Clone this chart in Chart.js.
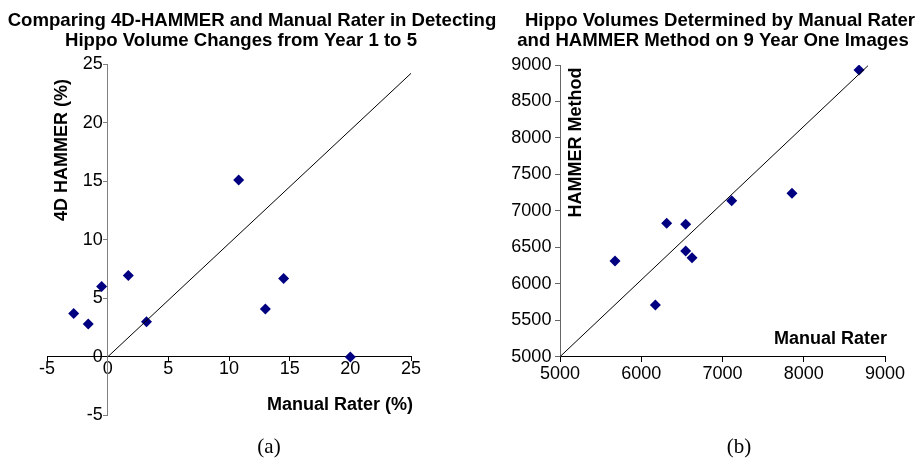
<!DOCTYPE html>
<html>
<head>
<meta charset="utf-8">
<script src="https://cdn.jsdelivr.net/npm/chart.js@4.4.0/dist/chart.umd.min.js"></script>
<style>
  body { margin: 0; background: #fff; }
  #wrap { position: relative; width: 916px; height: 459px; overflow: hidden; }
  canvas { position: absolute; top: 0; }
  .cap { position: absolute; top: 436px; width: 60px; text-align: center;
         font: 21px "Liberation Serif", "Times New Roman", serif; line-height: 21px; }
</style>
</head>
<body>
<div id="wrap">
  <canvas id="chartA" width="892" height="459" style="left:-200px"></canvas>
  <canvas id="chartB" width="800" height="459" style="left:316px"></canvas>
  <div class="cap" style="left:239px">(a)</div>
  <div class="cap" style="left:709px">(b)</div>
</div>
<script>
// (a) volume change, year 1 to 5 (%)
var changeManual = [-2.8, -1.6, -0.5, 1.7, 3.2, 10.8, 13.0, 14.5, 20.0];
var changeHammer = [3.7, 2.8, 6.0, 6.95, 3.0, 15.1, 4.1, 6.7, 0.0];
var changeRefX = [0, 25];
var changeRefY = [0, 24.2];
var changeTicks = [-5, 0, 5, 10, 15, 20, 25];

// (b) year one volumes
var volManual = [5677, 6174, 6313, 6547, 6547, 6625, 7113, 7855, 8680];
var volHammer = [6312, 5709, 6829, 6815, 6449, 6358, 7139, 7240, 8931];
var volRefX = [5000, 8790];
var volRefY = [5000, 8990];
var volXTicks = [5000, 6000, 7000, 8000, 9000];
var volYTicks = [5000, 5500, 6000, 6500, 7000, 7500, 8000, 8500, 9000];

var FONT = '"Liberation Sans", Arial, sans-serif';

function pts(xs, ys) {
	return xs.map(function (x, i) { return { x: x, y: ys[i] }; });
}

// bold titles and axis captions, placed like the original (page coords)
var pageText = {
	id: 'pageText',
	afterDraw: function (chart, args, opts) {
		var ctx = chart.ctx;
		(opts.items || []).forEach(function (it) {
			ctx.save();
			ctx.font = 'bold ' + (it.size || 18) + 'px ' + FONT;
			ctx.fillStyle = '#000';
			ctx.textAlign = it.align || 'center';
			ctx.textBaseline = 'middle';
			ctx.translate(it.x - opts.originX, it.y);
			if (it.rotate) ctx.rotate(-Math.PI / 2);
			ctx.fillText(it.text, 0, 0);
			ctx.restore();
		});
	}
};

function axis(tickList, pos, color, tl, pad, gap) {
	return {
		type: 'linear',
		position: pos,
		min: tickList[0],
		max: tickList[tickList.length - 1],
		afterBuildTicks: function (scale) {
			scale.ticks = tickList.map(function (v) { return { value: v }; });
		},
		grid: { drawOnChartArea: false, drawTicks: true, tickLength: tl, color: color, lineWidth: 1 },
		border: { display: true, color: color, width: 1 },
		ticks: {
			padding: pad,
			color: '#000',
			font: { family: FONT, size: 18 },
			callback: function (v) { return String(v) + (gap || ''); }
		}
	};
}

function makeChart(id, pointsData, refData, xScale, yScale, pad, originX, items) {
	return new Chart(document.getElementById(id), {
		type: 'scatter',
		data: {
			datasets: [
				{
					data: refData,
					showLine: true,
					borderColor: '#000',
					borderWidth: 1,
					pointRadius: 0
				},
				{
					data: pointsData,
					pointStyle: 'rectRot',
					pointRadius: 5.5,
					backgroundColor: '#000080',
					borderColor: '#000080',
					borderWidth: 0
				}
			]
		},
		plugins: [pageText],
		options: {
			responsive: false,
			animation: false,
			events: [],
			layout: { padding: pad },
			plugins: {
				legend: { display: false },
				tooltip: { enabled: false },
				title: { display: false },
				pageText: { originX: originX, items: items }
			},
			scales: { x: xScale, y: yScale }
		}
	});
}

makeChart('chartA',
	pts(changeManual, changeHammer),
	pts(changeRefX, changeRefY),
	axis(changeTicks, { y: 0 }, '#000', 4, -3),
	axis(changeTicks, { x: 0 }, '#808080', 4, 2, ' '),
	{ left: 247, right: 281, top: 64, bottom: 43.5 },
	-200,
	[
		{ text: 'Comparing 4D-HAMMER and Manual Rater in Detecting', x: 252, y: 21, size: 18.6 },
		{ text: 'Hippo Volume Changes from Year 1 to 5', x: 241, y: 41, size: 18.6 },
		{ text: '4D HAMMER (%)', x: 62, y: 150, rotate: true },
		{ text: 'Manual Rater (%)', x: 413, y: 405, align: 'right' }
	]);

makeChart('chartB',
	pts(volManual, volHammer),
	pts(volRefX, volRefY),
	axis(volXTicks, { y: 5000 }, '#000', 5, 2),
	axis(volYTicks, { x: 5000 }, '#666', 5, 3, ' \u2009'),
	{ left: 244, right: 231, top: 65, bottom: 102.3 },
	316,
	[
		{ text: 'Hippo Volumes Determined by Manual Rater', x: 720, y: 21, size: 18.6 },
		{ text: 'and HAMMER Method on 9 Year One Images', x: 713, y: 41, size: 18.6 },
		{ text: 'HAMMER Method', x: 576, y: 142.5, rotate: true },
		{ text: 'Manual Rater', x: 887, y: 339, align: 'right' }
	]);
</script>
</body>
</html>
